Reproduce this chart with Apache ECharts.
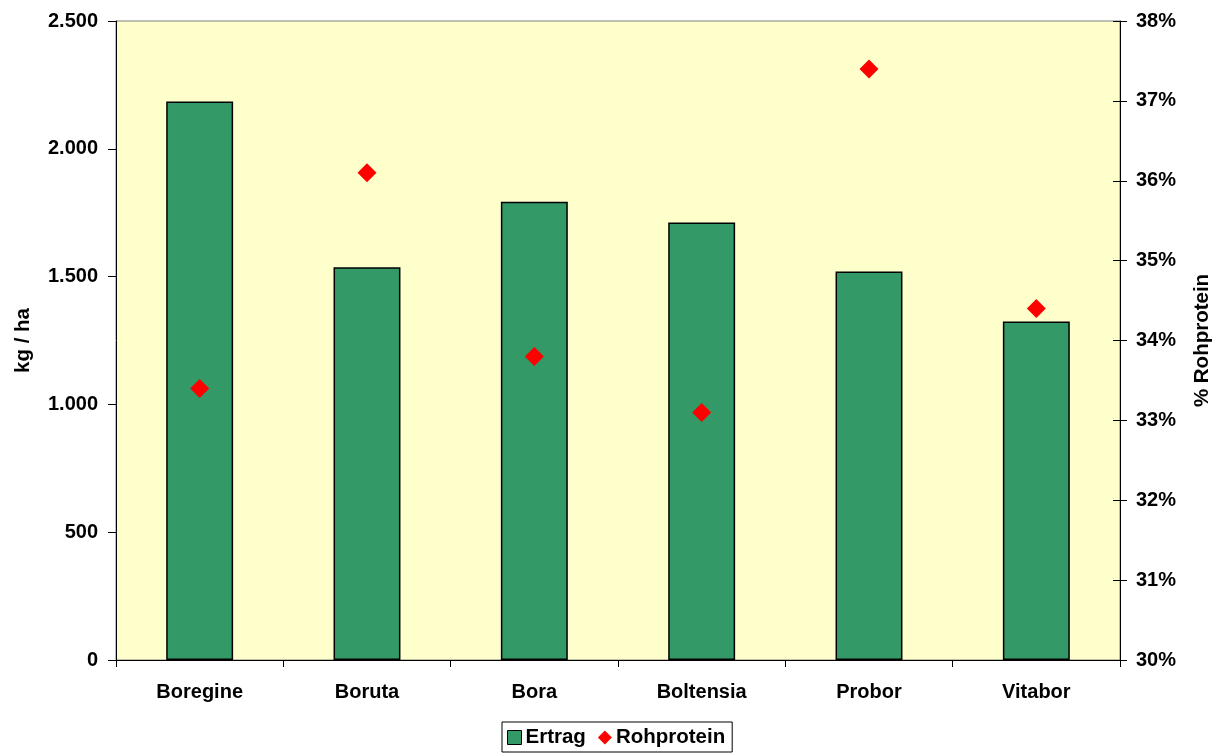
<!DOCTYPE html>
<html><head><meta charset="utf-8">
<script src="https://cdn.jsdelivr.net/npm/echarts@6/dist/echarts.min.js"></script>
<style>html,body{margin:0;padding:0;background:#fff}#c{width:1222px;height:753px}</style>
</head><body><div id="c"></div>
<script>
const categories = ['Boregine','Boruta','Bora','Boltensia','Probor','Vitabor'];
const ertrag = [2185, 1537, 1793, 1712, 1520, 1324];
const rohprotein = [33.4, 36.1, 33.8, 33.1, 37.4, 34.4];
const leftTicks = {min: 0, max: 2500, interval: 500};
const rightTicks = {min: 30, max: 38, interval: 1};

const fmtK = v => String(v).replace(/\B(?=(\d{3})+(?!\d))/g, '.');
const font = {fontFamily: 'Liberation Sans, Arial, sans-serif', fontWeight: 'bold', fontSize: 20, color: '#000'};
const chart = echarts.init(document.getElementById('c'));
chart.setOption({
  animation: false,
  textStyle: {fontFamily: 'Liberation Sans, Arial, sans-serif'},
  grid: {left: 116, right: 102, top: 21, bottom: 93, outerBoundsMode: 'none', containLabel: false,
         show: true, backgroundColor: '#FFFFCC', borderColor: '#808080', borderWidth: 1},
  legend: {
    left: 502, top: 722, itemGap: 12, itemWidth: 14, itemHeight: 14,
    borderColor: '#000', borderWidth: 1, padding: [5, 7, 4, 5],
    textStyle: Object.assign({}, font, {fontSize: 20.5, padding: [0, 0, 0, -1]}),
    data: [
      {name: 'Ertrag', icon: 'rect', itemStyle: {color: '#339966', borderColor: '#000', borderWidth: 1}},
      {name: 'Rohprotein', icon: 'diamond', itemStyle: {color: '#FF0000', opacity: 1}}
    ]
  },
  xAxis: {
    type: 'category', data: categories,
    axisLine: {lineStyle: {color: '#000', width: 1}},
    axisTick: {show: true, length: 7, lineStyle: {color: '#000'}},
    axisLabel: Object.assign({}, font, {margin: 22}),
    splitLine: {show: false}
  },
  yAxis: [
    {
      type: 'value', min: leftTicks.min, max: leftTicks.max, interval: leftTicks.interval,
      name: 'kg / ha', nameLocation: 'middle', nameGap: 82, nameRotate: 90,
      nameTextStyle: Object.assign({}, font, {fontSize: 20.5}),
      axisLine: {show: true, lineStyle: {color: '#000'}},
      axisTick: {show: true, length: 8, lineStyle: {color: '#000'}},
      axisLabel: Object.assign({}, font, {margin: 18, formatter: fmtK}),
      splitLine: {show: false}
    },
    {
      type: 'value', min: rightTicks.min, max: rightTicks.max, interval: rightTicks.interval, position: 'right',
      name: '% Rohprotein', nameLocation: 'middle', nameGap: 72, nameRotate: 90,
      nameTextStyle: Object.assign({}, font, {fontSize: 20.5}),
      axisLine: {show: true, lineStyle: {color: '#000'}},
      axisTick: {show: true, length: 7, lineStyle: {color: '#000'}},
      axisLabel: Object.assign({}, font, {margin: 16, formatter: '{value}%'}),
      splitLine: {show: false}
    },
    {
      type: 'value', min: rightTicks.min, max: rightTicks.max, interval: rightTicks.interval, position: 'right',
      axisLine: {show: false},
      axisTick: {show: true, inside: true, length: 7, lineStyle: {color: '#000'}},
      axisLabel: {show: false}, splitLine: {show: false}
    }
  ],
  series: [
    {name: 'Ertrag', type: 'bar', data: ertrag, barWidth: '40%', yAxisIndex: 0,
     itemStyle: {color: '#339966', borderColor: '#000', borderWidth: 1.5}},
    {name: 'Rohprotein', type: 'scatter', data: rohprotein, yAxisIndex: 1,
     symbol: 'diamond', symbolSize: [19, 19], itemStyle: {color: '#FF0000', opacity: 1}}
  ]
});
</script></body></html>
